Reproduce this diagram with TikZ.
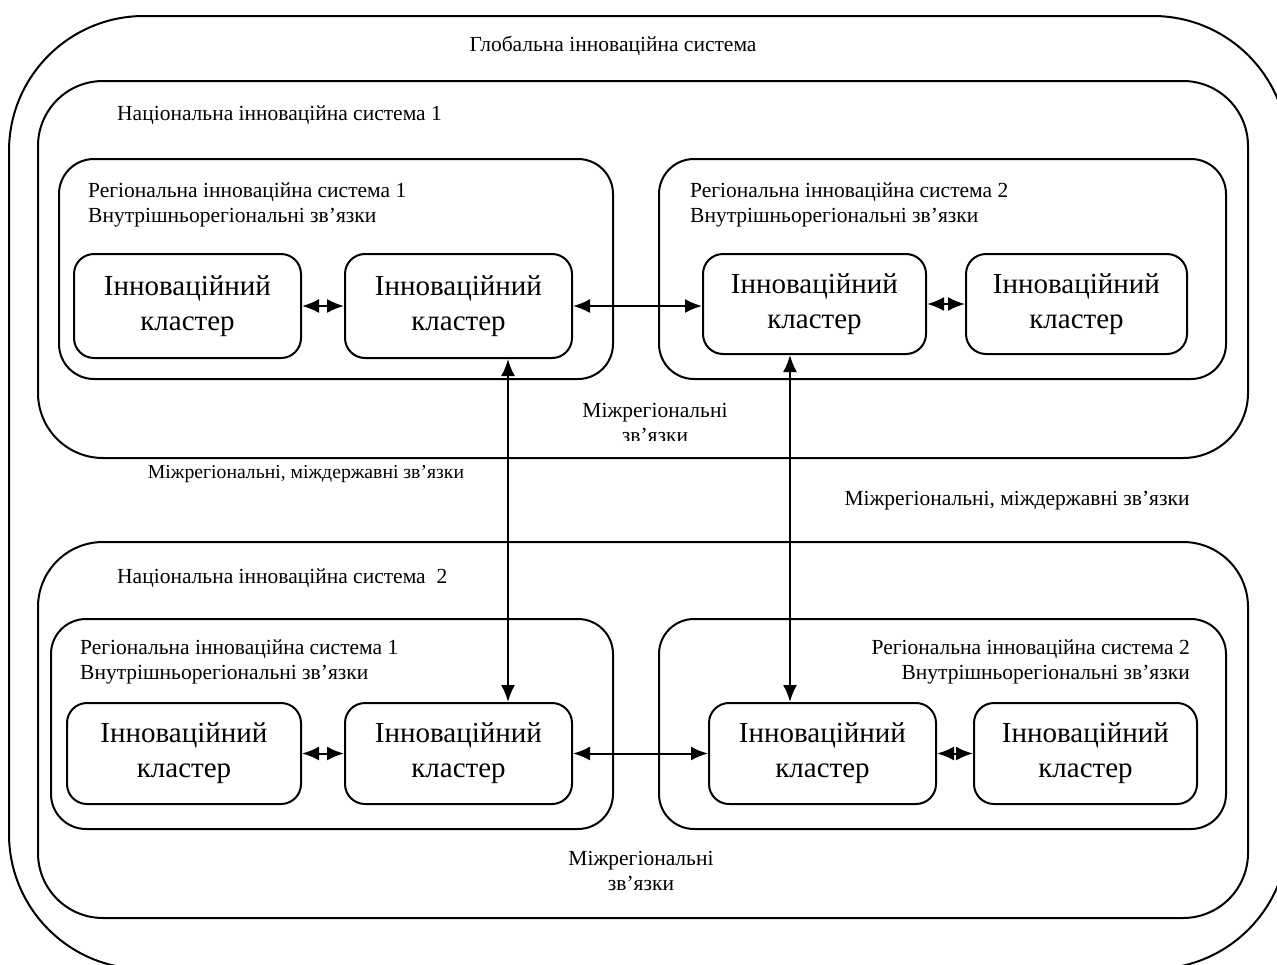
\documentclass[tikz,border=0pt]{standalone}
\usepackage{fontspec}
\setmainfont{Liberation Serif}
\usetikzlibrary{shapes}
\usetikzlibrary{arrows.meta}
\usetikzlibrary{positioning}

\begin{document}
\begin{tikzpicture}[x=1pt,y=-1pt]
\tikzstyle{system} = [rectangle, draw, line width=2pt, anchor=north west, inner sep=0pt]
\tikzstyle{cluster} = [rectangle, draw, line width=2pt, rounded corners=20pt, inner sep=0pt,
anchor=north west, minimum width=227pt, minimum height=104pt,
align=center, font=\fontsize{29}{35}\selectfont]
\tikzstyle{label} = [inner sep=0pt, font=\fontsize{21.5}{24.5}\selectfont]
\tikzstyle{link} = [draw, line width=2pt, {Latex[length=17pt,width=14pt]}-{Latex[length=17pt,width=14pt]}]
\useasboundingbox (0,0) rectangle (1277,964);
\clip (0,0) rectangle (1277,964);
% global and national systems
\draw [line width=2pt, rounded corners=135pt] (9,16) rectangle (1288,969);
\node [label] (globaltitle) at (613,46) {Глобальна інноваційна система};
\node [system, rounded corners=65pt, minimum width=1210pt, minimum height=377pt] (nis1) at (37,80) {};
\node [label, anchor=west] (nis1title) at (117,115) {Національна інноваційна система 1};
\node [system, rounded corners=65pt, minimum width=1210pt, minimum height=376pt] (nis2) at (37,541) {};
\node [label, anchor=west] (nis2title) at (117,578) {Національна інноваційна система~~2};
% regional systems, top
\node [system, rounded corners=35pt, minimum width=554pt, minimum height=220pt] (ris11) at (58,158) {};
\node [system, rounded corners=35pt, minimum width=567pt, minimum height=220pt] (ris12) at (658,158) {};
\node [label, anchor=north west, align=left] (ris11title) at (88,183)
{Регіональна інноваційна система 1\\Внутрішньорегіональні зв’язки};
\node [label, anchor=north west, align=left] (ris12title) at (690,183)
{Регіональна інноваційна система 2\\Внутрішньорегіональні зв’язки};
% regional systems, bottom
\node [system, rounded corners=35pt, minimum width=562pt, minimum height=210pt] (ris21) at (50,618) {};
\node [system, rounded corners=35pt, minimum width=567pt, minimum height=210pt] (ris22) at (658,618) {};
\node [label, anchor=north west, align=left] (ris21title) at (80,640)
{Регіональна інноваційна система 1\\Внутрішньорегіональні зв’язки};
\node [label, anchor=north east, align=right] (ris22title) at (1190,640)
{Регіональна інноваційна система 2\\Внутрішньорегіональні зв’язки};
% clusters, row 1
\node [cluster] (c11) at (73,253) {Інноваційний\\кластер};
\node [cluster] (c12) at (344,253) {Інноваційний\\кластер};
\node [cluster, minimum width=223pt, minimum height=100pt] (c13) at (702,253) {Інноваційний\\кластер};
\node [cluster, minimum width=221pt, minimum height=100pt] (c14) at (965,253) {Інноваційний\\кластер};
% clusters, row 2
\node [cluster, minimum width=234pt, minimum height=101pt] (c21) at (66,702) {Інноваційний\\кластер};
\node [cluster, minimum height=101pt] (c22) at (344,702) {Інноваційний\\кластер};
\node [cluster, minimum height=101pt] (c23) at (708,702) {Інноваційний\\кластер};
\node [cluster, minimum width=223pt, minimum height=101pt] (c24) at (973,702) {Інноваційний\\кластер};
% link labels
\begin{scope}
\clip (0,0) rectangle (1277,440);
\node [label, align=center] (inter1) at (655,423) {Міжрегіональні\\зв’язки};
\end{scope}
\node [label, align=center] (inter2) at (641,871) {Міжрегіональні\\зв’язки};
\node [label, font=\fontsize{19.7}{23}\selectfont] (state1) at (306,474) {Міжрегіональні, міждержавні зв’язки};
\node [label] (state2) at (1017,501) {Міжрегіональні, міждержавні зв’язки};
% links
\coordinate (vl) at (508,0);
\coordinate (vr) at (790,0);
\draw [link] (c11) -- (c12);
\draw [link] (c12.east) -- (c12.east -| c13.west);
\draw [link] (c13) -- (c14);
\draw [link] (c21) -- (c22);
\draw [link] (c22.east) -- (c22.east -| c23.west);
\draw [link] (c23) -- (c24);
\draw [link] (c12.south -| vl) -- (c22.north -| vl);
\draw [link] (c13.south -| vr) -- (c23.north -| vr);
\end{tikzpicture}
\end{document}
